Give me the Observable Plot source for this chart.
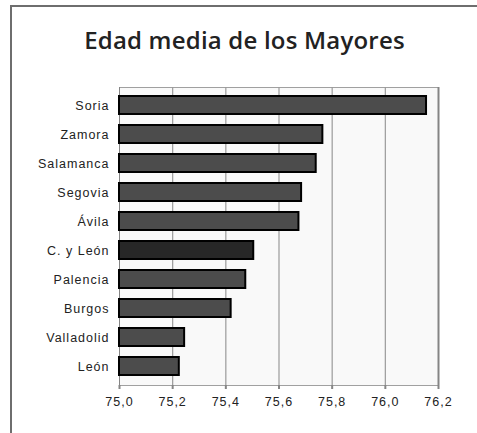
<!DOCTYPE html>
<html><head><meta charset="utf-8">
<script src="https://cdn.jsdelivr.net/npm/d3@7"></script>
<script src="https://cdn.jsdelivr.net/npm/@observablehq/plot@0.6"></script>
<style>
body{margin:0;background:#fff;width:477px;height:433px;overflow:hidden;position:relative;font-family:"Liberation Sans",Arial,sans-serif;}
#frame{position:absolute;left:10px;top:5px;width:600px;height:600px;border-left:2px solid #6e6e6e;border-top:2px solid #6e6e6e;}
#title{position:absolute;left:0;width:489px;top:23px;text-align:center;font-family:"Open Sans","DejaVu Sans",sans-serif;font-weight:600;font-size:24px;color:#222;letter-spacing:0.2px;}
#chart{position:absolute;left:0;top:70px;line-height:0;}
#chart svg text{letter-spacing:1px;}
</style></head>
<body>
<div id="frame"></div>
<div id="title">Edad media de los Mayores</div>
<div id="chart"></div>
<script>
const provinces = ["Soria","Zamora","Salamanca","Segovia","Ávila","C. y León","Palencia","Burgos","Valladolid","León"];
const ages = [76.155, 75.765, 75.74, 75.685, 75.675, 75.505, 75.475, 75.42, 75.245, 75.225];
const highlight = "C. y León";
const xTicks = [75.0, 75.2, 75.4, 75.6, 75.8, 76.0, 76.2];

const data = provinces.map((p, i) => ({province: p, age: ages[i]}));
const fmt = d => d.toFixed(1).replace(".", ",");

const chart = Plot.plot({
  width: 477,
  height: 340,
  marginLeft: 119,
  marginRight: 39,
  marginTop: 17,
  marginBottom: 25,
  style: {fontFamily: "'Liberation Sans', Arial, sans-serif", fontSize: "12.5px", color: "#222", background: "transparent", display: "block"},
  x: {domain: [75.0, 76.2], ticks: xTicks, tickFormat: fmt, label: null},
  y: {domain: provinces, paddingInner: 0.37, paddingOuter: 0.185, label: null},
  marks: [
    Plot.frame({fill: "#f9f9f9", stroke: "#a0a0a0"}),
    Plot.ruleX(xTicks.slice(1, -1), {stroke: "#9a9a9a", strokeWidth: 1.2}),
    Plot.ruleX([xTicks[xTicks.length - 1]], {stroke: "#858585", strokeWidth: 2}),
    Plot.ruleX([xTicks[0]], {stroke: "#858585", strokeWidth: 1}),
    Plot.barX(data, {
      x1: 75.0, x2: "age", y: "province",
      fill: d => d.province === highlight ? "#272727" : "#4c4c4c",
      stroke: "#000", strokeWidth: 2
    }),
    Plot.axisX({ticks: xTicks, tickFormat: fmt, label: null, tickSize: 4, tickPadding: 8, line: true, stroke: "#858585", strokeWidth: 2, color: "#222"}),
    Plot.axisY({tickSize: 0, tickPadding: 10, label: null, color: "#222"})
  ]
});
document.getElementById("chart").appendChild(chart);
</script>
</body></html>
